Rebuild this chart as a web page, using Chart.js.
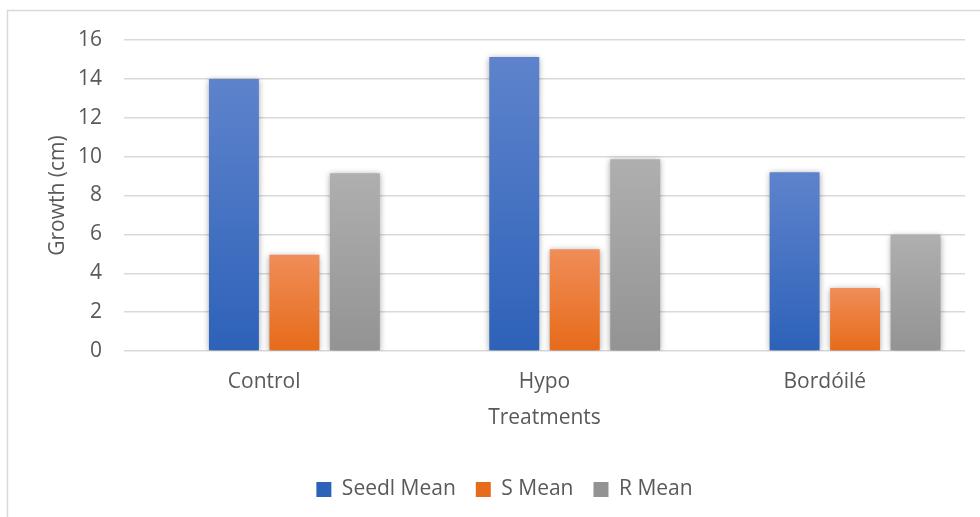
<!DOCTYPE html>
<html>
<head>
<meta charset="utf-8">
<script src="https://cdn.jsdelivr.net/npm/chart.js@4/dist/chart.umd.min.js"></script>
<style>
  html, body { margin: 0; padding: 0; background: #fff; }
  #wrap { width: 980px; height: 517px; position: relative; }
</style>
</head>
<body>
<div id="wrap"><canvas id="grafBarras" width="980" height="517"></canvas></div>
<script>
// dados do grafico
const treatments = ['Control', 'Hypo', 'Bordóilé'];
const seedlMean = [14.0, 15.12, 9.2];
const sMean = [4.95, 5.24, 3.24];
const rMean = [9.14, 9.87, 5.98];
const emptySeries = [null, null, null]; // serie vazia do Excel (ocupa o primeiro lugar)
const yTicks = [0, 2, 4, 6, 8, 10, 12, 14, 16];

const textColor = '#595959';
const fontFam = '"Open Sans", "DejaVu Sans", sans-serif';

// gradiente vertical por barra
function barGradient(top, bottom, fallback) {
  return (c) => {
    const chart = c.chart;
    if (!chart.chartArea || c.raw == null || !chart.scales.y) return fallback;
    const y = chart.scales.y;
    const y0 = y.getPixelForValue(0);
    const y1 = y.getPixelForValue(c.raw);
    const g = chart.ctx.createLinearGradient(0, y1, 0, y0);
    g.addColorStop(0, top);
    g.addColorStop(1, bottom);
    return g;
  };
}

// moldura, sombra das barras e legenda um pouco para a direita
const frame = {
  id: 'frame',
  afterLayout(chart) {
    if (chart.legend) {
      chart.legend.left += 22;
      chart.legend.right += 22;
    }
  },
  beforeDraw(chart) {
    const c = chart.ctx;
    c.save();
    c.fillStyle = '#fff';
    c.fillRect(0, 0, chart.width, chart.height);
    c.strokeStyle = '#d9d9d9';
    c.lineWidth = 1.5;
    c.beginPath();
    c.moveTo(7.5, chart.height);
    c.lineTo(7.5, 10.5);
    c.lineTo(chart.width, 10.5);
    c.stroke();
    c.restore();
  },
  beforeDatasetsDraw(chart) {
    const c = chart.ctx;
    c.save();
    c.shadowColor = 'rgba(0,0,0,0.35)';
    c.shadowBlur = 6;
    c.shadowOffsetY = 1;
  },
  afterDatasetsDraw(chart) {
    chart.ctx.restore();
  }
};

const ctx = document.getElementById('grafBarras').getContext('2d');

const myChart = new Chart(ctx, {
  type: 'bar',
  data: {
    labels: treatments,
    datasets: [
      {
        label: '',
        data: emptySeries,
        backgroundColor: 'rgba(0,0,0,0)'
      },
      {
        label: 'Seedl Mean',
        data: seedlMean,
        backgroundColor: barGradient('#5e83cc', '#2d62b9', '#4472c4')
      },
      {
        label: 'S Mean',
        data: sMean,
        backgroundColor: barGradient('#f08d58', '#e66b1a', '#ed7d31')
      },
      {
        label: 'R Mean',
        data: rMean,
        backgroundColor: barGradient('#afafaf', '#939393', '#a5a5a5')
      }
    ]
  },
  options: {
    responsive: false,
    animation: false,
    devicePixelRatio: 1,
    layout: { padding: { left: 0, right: 15, top: 40, bottom: 7 } },
    datasets: {
      bar: { categoryPercentage: 0.863, barPercentage: 0.826 }
    },
    scales: {
      x: {
        grid: { display: false, drawTicks: false },
        border: { display: false },
        ticks: { color: textColor, font: { family: fontFam, size: 21 }, padding: 18 },
        title: {
          display: true,
          text: 'Treatments',
          color: textColor,
          font: { family: fontFam, size: 21 },
          padding: { top: 0, bottom: 28 }
        },
        afterFit(scale) { scale.height = 108; }
      },
      y: {
        min: 0,
        max: 16,
        afterBuildTicks(scale) { scale.ticks = yTicks.map(v => ({ value: v })); },
        grid: { color: '#d9d9d9', lineWidth: 1.5, drawTicks: false },
        border: { display: false },
        ticks: { color: textColor, font: { family: fontFam, size: 21 }, padding: 22 },
        title: {
          display: true,
          text: 'Growth (cm)',
          color: textColor,
          font: { family: fontFam, size: 21 },
          padding: { top: 45, bottom: 0 }
        },
        afterFit(scale) { scale.width = 124; }
      }
    },
    plugins: {
      tooltip: { enabled: false },
      legend: {
        position: 'bottom',
        labels: {
          color: textColor,
          font: { family: fontFam, size: 21 },
          boxWidth: 15,
          boxHeight: 15,
          padding: 20,
          filter: (item) => item.text !== ''
        }
      }
    }
  },
  plugins: [frame]
});
</script>
</body>
</html>
